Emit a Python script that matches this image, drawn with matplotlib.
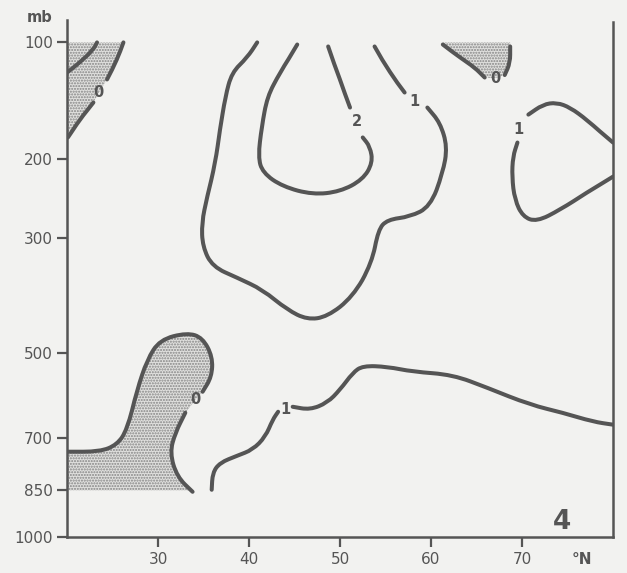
import numpy as np
import matplotlib
matplotlib.use('Agg')
from matplotlib import pyplot as plt
from matplotlib.path import Path
from matplotlib.patches import PathPatch

KAPPA = 0.286   # p**kappa vertical coordinate

# isolines as (latitude, mb); each line is split where its label sits

# outer "1" isoline, middle of the section
c1_mid_a_lat = [40.9, 39.8, 38.1, 37.4, 36.8, 36.3, 35.4, 34.8, 34.9, 36.0, 38.7, 41.5,
                44.2, 46.4, 48.6, 51.4, 53.5, 54.2, 55.2, 57.7, 59.9, 61.3, 61.8, 61.0, 59.6]
c1_mid_a_p = [100, 110.3, 121.3, 140.4, 170.1, 204.1, 244, 278, 312, 343, 360.8, 380.9,
              416.3, 434.8, 429.3, 393, 336.7, 287.7, 273.9, 269.9, 256.7, 215.4, 187.1, 163.5, 149.9]
c1_mid_b_lat = [57.1, 55.5, 53.8]
c1_mid_b_p = [137.1, 121.3, 102.7]

# "2" isoline
c2_a_lat = [45.3, 43.4, 42.0, 41.4, 41.0, 41.5, 43.7, 47.0, 50.0, 52.5, 53.6, 53.3, 52.5]
c2_a_p = [101.4, 121.3, 140.4, 167.3, 197.6, 215.4, 231.7, 241.5, 237.8, 223.4, 204.1, 187.1, 177.9]
c2_b_lat = [51.1, 50.0, 48.7]
c2_b_p = [149.9, 126.6, 102.7]

# "1" isoline against the right edge
c1_rt_a_lat = [80.0, 77.1, 75.3, 73.8, 72.3, 70.7]
c1_rt_a_p = [183.0, 160.7, 149.9, 145.5, 147.2, 156.2]
c1_rt_b_lat = [69.5, 69.0, 68.9, 69.2, 70.1, 71.6, 74.2, 77.1, 80.0]
c1_rt_b_p = [183.0, 197.6, 220, 247.7, 269.9, 276.7, 260.6, 239, 220]

# lower "1" isoline
c1_low_a_lat = [35.9, 36.0, 36.8, 38.7, 40.4, 41.8, 42.6, 43.2]
c1_low_a_p = [848, 797.5, 768.8, 749.2, 732.6, 697.8, 653.9, 634.1]
c1_low_b_lat = [44.8, 46.7, 48.6, 50.0, 51.4, 52.5, 55.2, 58.0, 62.4, 66.2, 70.9, 74.5, 77.8, 80.0]
c1_low_b_p = [621.9, 629.2, 612.2, 581.5, 543.1, 527.8, 529.9, 540.8, 547.5, 576.9, 617, 636.6, 658.9, 666.5]

# "0" isolines (negative side stippled)
c0_tl_in_lat = [20.0, 21.4, 22.9, 23.3]
c0_tl_in_p = [121.3, 113.9, 104.7, 100]
c0_tl_a_lat = [26.2, 25.5, 24.4]
c0_tl_a_p = [100, 111.7, 126.6]
c0_tl_b_lat = [22.9, 21.4, 20.1]
c0_tl_b_p = [145.5, 160.7, 177.9]

c0_tr_a_lat = [61.3, 63.2, 64.8, 65.9]
c0_tr_a_p = [101.4, 110.3, 117.5, 125.1]
c0_tr_b_lat = [68.1, 68.7, 68.7]
c0_tr_b_p = [123.2, 113.9, 102.7]

c0_low_a_lat = [20.0, 23.6, 25.5, 26.6, 27.7, 28.8, 30.2, 33.2, 34.9, 36.0, 35.9, 34.9]
c0_low_a_p = [738.1, 738.1, 719.1, 679.3, 581.5, 514.9, 473.7, 459.8, 469.7, 508.6, 551.9, 586.2]
c0_low_b_lat = [33.0, 31.9, 31.3, 32.1, 33.8]
c0_low_b_p = [636.6, 687.2, 740.9, 809.1, 854.1]

# isoline labels
lab_lat = [58.2, 51.9, 69.6, 44.0, 23.5, 67.1, 34.1]
lab_p = [144.6, 162.6, 170.1, 629, 137.1, 125.8, 605]
lab_txt = ['1', '2', '1', '1', '0', '0', '0']

lat_ticks = [30, 40, 50, 60, 70]
p_ticks = [100, 200, 300, 500, 700, 850, 1000]

ink = '#555555'
paper = '#f2f2f0'


def curve(xs, ys):
    # quadratic b-spline through the given points, ends pinned
    pts = list(zip(xs, ys))
    verts = [pts[0]]
    codes = [Path.MOVETO]
    if len(pts) < 3:
        verts += pts[1:]
        codes += [Path.LINETO] * (len(pts) - 1)
        return verts, codes
    mid = lambda a, b: ((a[0] + b[0]) / 2, (a[1] + b[1]) / 2)
    verts.append(mid(pts[0], pts[1]))
    codes.append(Path.LINETO)
    for i in range(1, len(pts) - 1):
        verts += [pts[i], mid(pts[i], pts[i + 1])]
        codes += [Path.CURVE3, Path.CURVE3]
    verts.append(pts[-1])
    codes.append(Path.LINETO)
    return verts, codes


def stipple(ax, xs, ys, corners):
    verts, codes = curve(xs, ys)
    for c in corners:
        verts.append(c)
        codes.append(Path.LINETO)
    verts.append(verts[0])
    codes.append(Path.CLOSEPOLY)
    ax.add_patch(PathPatch(Path(verts, codes), facecolor='#e0e0de', edgecolor='#858585',
                           hatch='......', linewidth=0, zorder=1))


fig = plt.figure(figsize=(6.27, 5.73), dpi=100, facecolor=paper)
ax = fig.add_axes([67/627, 1-537/573, 546/627, 517/573])
ax.set_facecolor(paper)
ax.set_yscale('function', functions=(lambda p: np.abs(p)**KAPPA, lambda q: np.abs(q)**(1/KAPPA)))
ax.set_xlim(20, 80)
ax.set_ylim(1000, 86)

# stippled areas
stipple(ax, c0_tl_a_lat + [23.5] + c0_tl_b_lat, c0_tl_a_p + [137.1] + c0_tl_b_p,
        [(20, 177.9), (20, 100)])
stipple(ax, c0_tr_a_lat + [67.1] + c0_tr_b_lat, c0_tr_a_p + [125.8] + c0_tr_b_p,
        [(68.7, 100), (61.3, 100)])
stipple(ax, c0_low_a_lat + [34.1] + c0_low_b_lat, c0_low_a_p + [605] + c0_low_b_p,
        [(33.2, 850), (20, 850)])

segs = [(c1_mid_a_lat, c1_mid_a_p), (c1_mid_b_lat, c1_mid_b_p),
        (c2_a_lat, c2_a_p), (c2_b_lat, c2_b_p),
        (c1_rt_a_lat, c1_rt_a_p), (c1_rt_b_lat, c1_rt_b_p),
        (c1_low_a_lat, c1_low_a_p), (c1_low_b_lat, c1_low_b_p),
        (c0_tl_in_lat, c0_tl_in_p), (c0_tl_a_lat, c0_tl_a_p), (c0_tl_b_lat, c0_tl_b_p),
        (c0_tr_a_lat, c0_tr_a_p), (c0_tr_b_lat, c0_tr_b_p),
        (c0_low_a_lat, c0_low_a_p), (c0_low_b_lat, c0_low_b_p)]
for xs, ys in segs:
    v, c = curve(xs, ys)
    ax.add_patch(PathPatch(Path(v, c), fill=False, edgecolor=ink, lw=2.9,
                           capstyle='round', joinstyle='round', zorder=3))

for x, y, t in zip(lab_lat, lab_p, lab_txt):
    ax.text(x, y, t, ha='center', va='center', fontsize=10.5, fontweight='bold',
            color=ink, zorder=4)

ax.spines['top'].set_visible(False)
for s in ['left', 'right', 'bottom']:
    ax.spines[s].set_color(ink)
    ax.spines[s].set_linewidth(1.8)
ax.spines['right'].set_bounds(1000, 87)

ax.set_xticks(lat_ticks)
ax.set_xticklabels([str(v) for v in lat_ticks])
ax.set_yticks(p_ticks)
ax.set_yticklabels([str(v) for v in p_ticks])
ax.minorticks_off()
ax.tick_params(axis='both', colors=ink, width=1.6, labelsize=11, direction='out')
ax.tick_params(axis='y', length=7, pad=3)
ax.tick_params(axis='x', length=7, pad=4)

ax.text(76.6, -0.043, '°N', transform=ax.get_xaxis_transform(), ha='center', va='center',
        fontsize=11, fontweight='bold', color=ink)
ax.text(74.4, 950, '4', ha='center', va='center', fontsize=19, fontweight='bold', color=ink)
fig.text(40/627, 1-18/573, 'mb', ha='center', va='center', fontsize=10.5, fontweight='bold', color=ink)

fig.savefig('out.png', dpi=100, facecolor=paper)
